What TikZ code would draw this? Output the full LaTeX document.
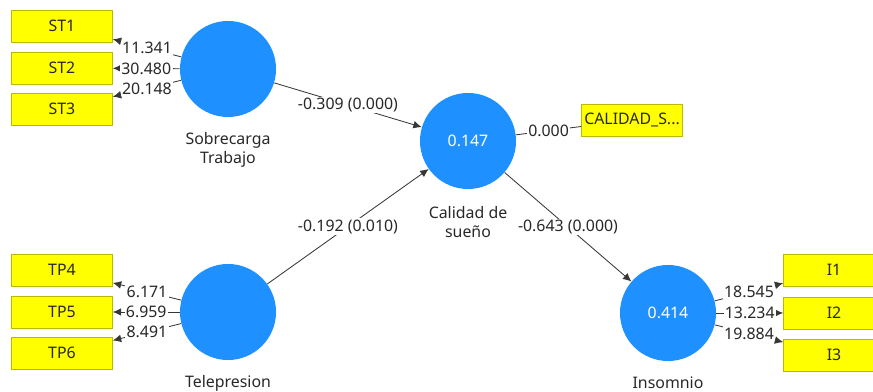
\documentclass[tikz,border=0pt]{standalone}
\usepackage{fontspec}
\setmainfont{Noto Sans}
\usetikzlibrary{arrows.meta}
\definecolor{lvblue}{RGB}{30,144,255}
\definecolor{indyellow}{RGB}{255,255,0}
\definecolor{indborder}{RGB}{185,185,0}
\definecolor{txtgray}{RGB}{40,40,40}
\definecolor{linegray}{RGB}{55,55,55}
\tikzset{
  every node/.style={font=\fontsize{11.3}{13.5}\selectfont, text=txtgray},
  lv/.style={circle, fill=lvblue, minimum size=2.4cm, inner sep=0pt, text=white},
  ind/.style={rectangle, fill=indyellow, draw=indborder, minimum width=2.525cm, minimum height=0.8cm, inner sep=0pt},
  link/.style={draw=linegray, line width=0.6pt, -{Latex[length=6pt,width=5.5pt]}},
  coef/.style={fill=white, inner sep=1pt}
}

\begin{document}
\begin{tikzpicture}[x=0.025cm, y=-0.025cm]
    \useasboundingbox (0,0) rectangle (873,392);
    \clip (0,0) rectangle (873,392);
    % latent variables
    \node[lv] (ST) at (228,69) {};
    \node[lv] (TP) at (228,312) {};
    \node[lv] (CS) at (468,141) {0.147};
    \node[lv] (IN) at (668,313) {0.414};
    \node[align=center] (STlab) at (228,150) {Sobrecarga\\Trabajo};
    \node[align=center] (CSlab) at (468,222) {Calidad de\\sueño};
    \node (TPlab) at (228,383) {Telepresion};
    \node (INlab) at (668,383) {Insomnio};
    % indicators
    \node[ind] (ST1) at (62,26) {ST1};
    \node[ind] (ST2) at (62,68) {ST2};
    \node[ind] (ST3) at (62,109) {ST3};
    \node[ind] (TP4) at (62,270) {TP4};
    \node[ind] (TP5) at (62,312) {TP5};
    \node[ind] (TP6) at (62,353) {TP6};
    \node[ind] (I1) at (834,270) {I1};
    \node[ind] (I2) at (834,313) {I2};
    \node[ind] (I3) at (834,355) {I3};
    \node[ind] (CSi) at (632,120) {CALIDAD\_S...};
    % loadings
    \draw[link] (ST) -- node[coef] {11.341} (ST1);
    \draw[link] (ST) -- node[coef] {30.480} (ST2);
    \draw[link] (ST) -- node[coef] {20.148} (ST3);
    \draw[link] (TP) -- node[coef] {6.171} (TP4);
    \draw[link] (TP) -- node[coef] {6.959} (TP5);
    \draw[link] (TP) -- node[coef] {8.491} (TP6);
    \draw[link] (IN) -- node[coef] {18.545} (I1);
    \draw[link] (IN) -- node[coef] {13.234} (I2);
    \draw[link] (IN) -- node[coef] {19.884} (I3);
    \draw[draw=linegray, line width=0.6pt] (CS) -- node[coef] {0.000} (CSi);
    % paths
    \draw[link] (ST) -- node[coef] {-0.309 (0.000)} (CS);
    \draw[link] (TP) -- node[coef] {-0.192 (0.010)} (CS);
    \draw[link] (CS) -- node[coef] {-0.643 (0.000)} (IN);
\end{tikzpicture}
\end{document}
